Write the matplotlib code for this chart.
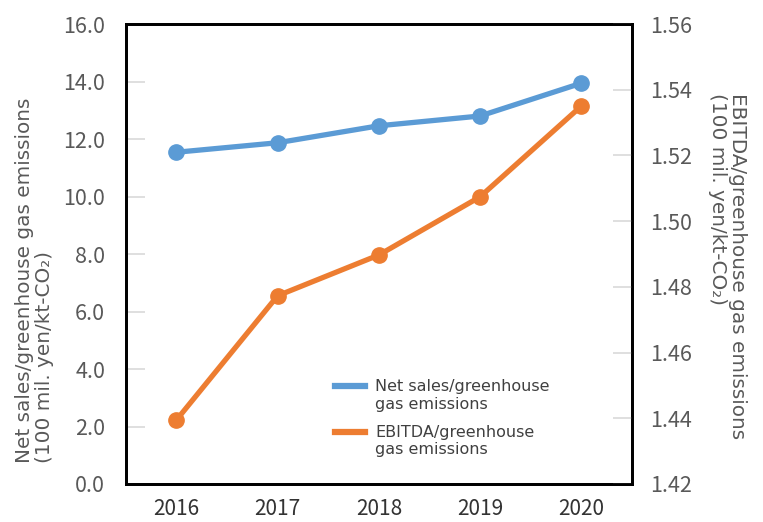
import matplotlib
matplotlib.use("Agg")
import matplotlib.pyplot as plt
from matplotlib.lines import Line2D
from matplotlib.legend_handler import HandlerLine2D

# valores
anos = ["2016", "2017", "2018", "2019", "2020"]
vendas_ghg = [11.54, 11.87, 12.46, 12.80, 13.94]
ebitda_ghg = [1.4395, 1.4773, 1.4897, 1.5074, 1.5350]

azul = "#5B9BD5"
laranja = "#ED7D31"
cinza = "#595959"

plt.rcParams["font.family"] = ["Noto Sans CJK JP", "DejaVu Sans"]


# legenda com a linha alinhada com a primeira linha do texto
class HandlerTopo(HandlerLine2D):
    def create_artists(self, legend, orig_handle, xdescent, ydescent,
                       width, height, fontsize, trans):
        arts = super().create_artists(legend, orig_handle, xdescent, ydescent,
                                      width, height, fontsize, trans)
        for a in arts:
            a.set_ydata([y + fontsize * 0.6 for y in a.get_ydata()])
        return arts


fig = plt.figure(figsize=(7.63, 5.22), dpi=100)
ax = fig.add_axes([0.165, 0.0728, 0.663, 0.8812])
ax2 = ax.twinx()

x = range(len(anos))
ax.plot(x, vendas_ghg, color=azul, lw=3.8, marker="o", ms=11, zorder=3)
ax2.plot(x, ebitda_ghg, color=laranja, lw=3.8, marker="o", ms=11, zorder=3)

ax.set_xlim(-0.5, 4.5)
ax.set_ylim(0, 16)
ax2.set_ylim(1.42, 1.56)
ax.set_xticks(list(x))
ax.set_xticklabels(anos)
ax.set_yticks([0, 2, 4, 6, 8, 10, 12, 14, 16])
ax.set_yticklabels([f"{v:.1f}" for v in range(0, 17, 2)])
ticks_dir = [1.42, 1.44, 1.46, 1.48, 1.50, 1.52, 1.54, 1.56]
ax2.set_yticks(ticks_dir)
ax2.set_yticklabels([f"{v:.2f}" for v in ticks_dir])

ax.tick_params(axis="x", length=0, pad=10, labelsize=15, labelcolor="#333333")
ax.tick_params(axis="y", direction="in", length=14, width=1.2, color="#D9D9D9",
               pad=15, labelsize=15.5, labelcolor=cinza)
ax2.tick_params(axis="y", direction="in", length=14, width=1.2, color="#D9D9D9",
                pad=13, labelsize=15.5, labelcolor=cinza)

for a in (ax, ax2):
    for s in a.spines.values():
        s.set_color("black")
        s.set_linewidth(2)

fig.text(0.045, 0.113, "Net sales/greenhouse gas emissions\n(100 mil. yen/kt-CO₂)",
         rotation=90, ha="center", va="bottom", multialignment="left",
         fontsize=14.4, color=cinza, linespacing=1.05, family="DejaVu Sans")
fig.text(0.953, 0.822, "EBITDA/greenhouse gas emissions\n(100 mil. yen/kt-CO₂)",
         rotation=270, ha="center", va="top", multialignment="left",
         fontsize=14.4, color=cinza, linespacing=1.05, family="DejaVu Sans")

handles = [Line2D([], [], color=azul, lw=4.5), Line2D([], [], color=laranja, lw=4.5)]
nomes = ["Net sales/greenhouse\ngas emissions", "EBITDA/greenhouse\ngas emissions"]
leg = ax2.legend(handles, nomes, loc="upper left", bbox_to_anchor=(0.413, 0.228),
                 frameon=False, handlelength=1.9, labelspacing=0.85,
                 handletextpad=0.63, borderpad=0, borderaxespad=0,
                 handler_map={Line2D: HandlerTopo()},
                 prop={"family": "DejaVu Sans", "size": 11.5})
for t in leg.get_texts():
    t.set_color("#404040")
    t.set_linespacing(1.2)

fig.savefig("out.png", dpi=100)
